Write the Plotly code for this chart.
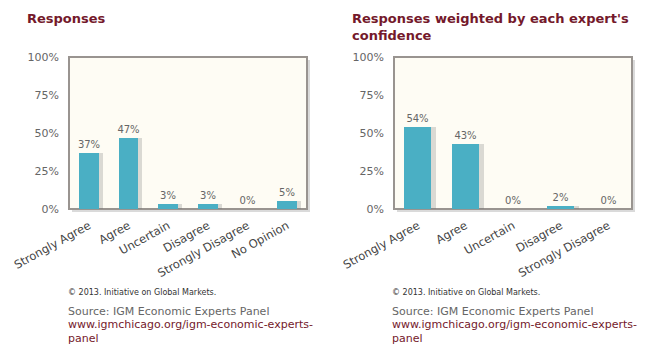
import plotly.graph_objects as go

cats_left = ["Strongly Agree", "Agree", "Uncertain", "Disagree", "Strongly Disagree", "No Opinion"]
vals_left = [37, 47, 3, 3, 0, 5]
cats_right = ["Strongly Agree", "Agree", "Uncertain", "Disagree", "Strongly Disagree"]
vals_right = [54, 43, 0, 2, 0]
ytick_vals = [0, 25, 50, 75, 100]
ytick_text = ["0%", "25%", "50%", "75%", "100%"]

W, H = 645, 351
BAR = "#4aafc4"
RED = "#74192b"
GRAY = "#666666"
FONT = "DejaVu Sans"

def px(x):
    return x / W

def py(y):
    return 1 - y / H

dom_l = [px(69), px(307)]
dom_r = [px(394), px(632)]
dom_y = [py(209), py(57)]

fig = go.Figure()

def add_panel(cats, vals, xa, ya, width):
    # shadow
    fig.add_trace(go.Bar(
        x=cats, y=vals, xaxis=xa, yaxis=ya, width=width,
        offset=-width / 2 + width * 0.2,
        marker=dict(color="rgba(110,110,110,0.25)", line=dict(width=0)),
        hoverinfo="skip", showlegend=False,
    ))
    fig.add_trace(go.Bar(
        x=cats, y=vals, xaxis=xa, yaxis=ya, width=width,
        offset=-width / 2,
        marker=dict(color=BAR, line=dict(width=0)),
        text=[f"{v}%" for v in vals], textposition="outside",
        constraintext="none",
        textfont=dict(family=FONT, size=10, color=GRAY),
        cliponaxis=False, showlegend=False,
    ))

add_panel(cats_left, vals_left, "x", "y", 0.5)
add_panel(cats_right, vals_right, "x2", "y2", 0.56)

xcommon = dict(showgrid=False, zeroline=False, showline=False, tickangle=-29,
               automargin=False, ticklabelstandoff=7,
               tickfont=dict(family=FONT, size=11.5, color="#444444"), ticks="")
ycommon = dict(range=[0, 100], tickvals=ytick_vals, ticktext=ytick_text,
               showgrid=False, zeroline=False, showline=False, automargin=False,
               tickfont=dict(family=FONT, size=11, color=GRAY), ticks="",
               ticklabelstandoff=9)

shapes = []
for d in (dom_l, dom_r):
    # drop shadow of plot frame
    shapes.append(dict(type="rect", xref="paper", yref="paper",
                       x0=d[0] + px(3), x1=d[1] + px(3), y0=dom_y[0] - 3 / H, y1=dom_y[1] - 3 / H,
                       fillcolor="#dadada", line=dict(width=0), layer="below"))
    shapes.append(dict(type="rect", xref="paper", yref="paper",
                       x0=d[0], x1=d[1], y0=dom_y[0], y1=dom_y[1],
                       fillcolor="#fefcf4", line=dict(color="#999490", width=2), layer="below"))

annotations = []
def add_text(x, y, text, size, color, bold=False):
    annotations.append(dict(xref="paper", yref="paper", x=px(x), y=py(y),
                            xanchor="left", yanchor="top", showarrow=False,
                            align="left", text=(f"<b>{text}</b>" if bold else text),
                            font=dict(family=FONT, size=size, color=color)))

add_text(25, 9, "Responses", 13, RED, bold=True)
add_text(350, 9, "Responses weighted by each expert's<br>confidence", 13, RED, bold=True)
for x0 in (66, 390):
    add_text(x0, 286, "© 2013. Initiative on Global Markets.", 8, "#333333")
    add_text(x0, 303, "Source: IGM Economic Experts Panel", 11, GRAY)
    add_text(x0, 316, "www.igmchicago.org/igm-economic-experts-<br>panel", 11, RED)

fig.update_layout(
    width=W, height=H, autosize=False,
    margin=dict(l=0, r=0, t=0, b=0, autoexpand=False),
    paper_bgcolor="white", plot_bgcolor="rgba(0,0,0,0)",
    barmode="overlay", bargap=0,
    xaxis=dict(domain=dom_l, anchor="y", **xcommon),
    yaxis=dict(domain=dom_y, anchor="x", **ycommon),
    xaxis2=dict(domain=dom_r, anchor="y2", **xcommon),
    yaxis2=dict(domain=dom_y, anchor="x2", **ycommon),
    shapes=shapes, annotations=annotations,
    showlegend=False,
)

fig.write_html("out.html")
